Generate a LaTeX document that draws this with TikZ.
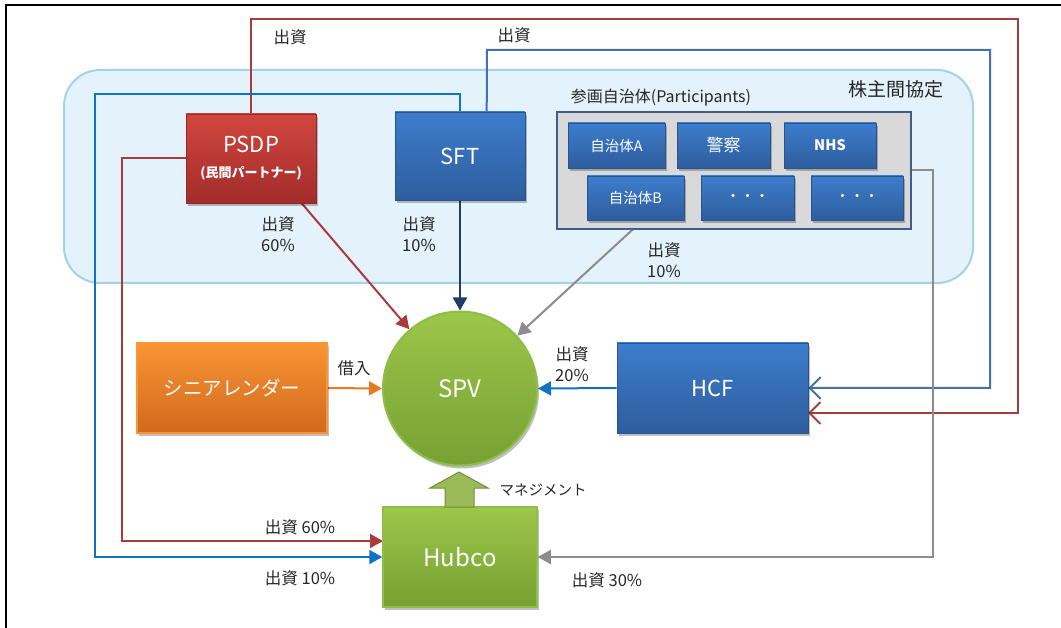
\documentclass[tikz,border=0pt]{standalone}
\usepackage{fontspec}
\setmainfont{Noto Sans CJK JP}
\usetikzlibrary{arrows.meta,shadows,calc}

\definecolor{regionfill}{HTML}{E4F2FB}
\definecolor{regionline}{HTML}{A3D3E4}
\definecolor{redtop}{HTML}{D2463F}
\definecolor{redbot}{HTML}{A22C2A}
\definecolor{bluetop}{HTML}{3D7DCC}
\definecolor{bluebot}{HTML}{2E5D9D}
\definecolor{greentop}{HTML}{9DC64B}
\definecolor{greenbot}{HTML}{76A032}
\definecolor{greenring}{HTML}{8DBE45}
\definecolor{orangetop}{HTML}{F99535}
\definecolor{orangebot}{HTML}{D0691D}
\definecolor{lnred}{HTML}{A83C3C}
\definecolor{lnsteel}{HTML}{4472A8}
\definecolor{lnbright}{HTML}{1072C4}
\definecolor{lnnavy}{HTML}{1F3D6B}
\definecolor{lngray}{HTML}{8C8C8C}
\definecolor{lnorange}{HTML}{E8791E}
\definecolor{panelfill}{HTML}{D9D9D9}
\definecolor{panelline}{HTML}{3E5D8C}
\definecolor{mgmtfill}{HTML}{9BBB59}
\definecolor{mgmtline}{HTML}{6F8F38}

\pgfdeclarelayer{regionlayer}
\pgfdeclarelayer{linklayer}
\pgfsetlayers{regionlayer,linklayer,main}

\tikzset{
  shade/.style={drop shadow={shadow xshift=2pt,shadow yshift=-3pt,opacity=0.25,fill=black}},
  redbox/.style={shade,rectangle,draw=redbot!90!black,line width=0.6pt,top color=redtop,bottom color=redbot,text=white,align=center,inner sep=0pt},
  bluebox/.style={shade,rectangle,draw=bluebot!90!black,line width=0.6pt,top color=bluetop,bottom color=bluebot,text=white,align=center,inner sep=0pt},
  greenbox/.style={shade,rectangle,draw=greenring,line width=1.5pt,top color=greentop,bottom color=greenbot,text=white,align=center,inner sep=0pt},
  orangebox/.style={shade,rectangle,draw=orangetop,line width=1.2pt,top color=orangetop,bottom color=orangebot,text=white,align=center,inner sep=0pt},
  bigtxt/.style={font=\fontsize{22}{26}\selectfont},
  smalltxt/.style={font=\fontsize{14.5}{16}\selectfont},
  lbl/.style={font=\fontsize{16.5}{21}\selectfont,align=center,inner sep=0pt,text=black!85},
  flow/.style={line width=2pt},
  filledtip/.style={-{Triangle[length=13pt,width=14pt]}},
  opentip/.style={-{Straight Barb[length=11pt,width=22pt]}},
}

\begin{document}
\begin{tikzpicture}[x=1pt,y=-1pt]
\useasboundingbox (0,0) rectangle (1061,628);

% participants panel
\node[lbl,font=\fontsize{16}{18}\selectfont] (parttitle) at (661,98) {参画自治体(Participants)};
\node[rectangle,draw=panelline,fill=panelfill,line width=2pt,minimum width=354pt,minimum height=117pt,inner sep=0pt]
  (part) at (734,170.5) {};

% participant members
\node[bluebox,smalltxt,minimum width=97pt,minimum height=45pt] (ja) at (616.5,145.5) {自治体A};
\node[bluebox,font=\fontsize{17}{18}\selectfont,minimum width=93pt,minimum height=45pt] (police) at (723.5,145.5) {警察};
\node[bluebox,font=\bfseries\fontsize{14.5}{16}\selectfont,minimum width=92pt,minimum height=45pt] (nhs) at (830,145.5) {NHS};
\node[bluebox,smalltxt,minimum width=97pt,minimum height=44pt] (jb) at (635.5,198) {自治体B};
\node[bluebox,smalltxt,minimum width=93pt,minimum height=44pt] (dots1) at (747.5,198) {・・・};
\node[bluebox,smalltxt,minimum width=92pt,minimum height=44pt] (dots2) at (857,198) {・・・};

% main entities
\node[redbox,font=\fontsize{22}{25}\selectfont,minimum width=130pt,minimum height=89pt] (psdp) at (251,158.5)
  {PSDP\\{\bfseries\fontsize{13}{15}\selectfont (民間パートナー)}};
\node[bluebox,bigtxt,minimum width=130pt,minimum height=88pt] (sft) at (460,156) {SFT};
\node[shade,circle,draw=greenring,line width=2pt,top color=greentop,bottom color=greenbot,
  text=white,minimum size=154pt,inner sep=0pt,font=\fontsize{24}{28}\selectfont] (spv) at (460,388.5) {SPV};
\node[orangebox,font=\fontsize{19.5}{22}\selectfont,minimum width=190pt,minimum height=90pt] (lender) at (232,388) {シニアレンダー};
\node[bluebox,bigtxt,minimum width=191pt,minimum height=90pt] (hcf) at (712.5,388) {HCF};
\node[greenbox,font=\fontsize{24}{28}\selectfont,minimum width=154pt,minimum height=100pt] (hubco) at (460,557) {Hubco};

% management block arrow from Hubco up to SPV
\draw[fill=mgmtfill,draw=mgmtline,line width=1pt]
  (445,507) -- (445,488) -- (430,488) -- (459,472) -- (488,488) -- (474,488) -- (474,507) -- cycle;
\node[lbl,font=\fontsize{14.5}{16}\selectfont] (mgmt) at (543,490) {マネジメント};

% background: page, frame and shareholders' agreement region
\begin{pgfonlayer}{regionlayer}
\fill[white] (0,0) rectangle (1061,628);
\draw[line width=2.5pt] (6,628) -- (6,5) -- (1061,5);
\draw[fill=regionfill,draw=regionline,line width=2pt,rounded corners=36pt]
  (64,70) rectangle (973,283);
\end{pgfonlayer}
\node[lbl,font=\fontsize{19}{20}\selectfont] (agree) at (896,89) {株主間協定};

% helper coordinates for routed connectors
\coordinate (redTopL) at (251,19);
\coordinate (redTopR) at (1018,19);
\coordinate (redDown) at (1018,413);
\coordinate (hcfRed) at (808,413);

\coordinate (sftTopR) at ($(sft.north west)+(92,0)$);
\coordinate (steelTopL) at (487,50);
\coordinate (steelTopR) at (990,50);

\coordinate (brightTopR) at (460,94);
\coordinate (brightTopL) at (95,94);
\coordinate (brightBot) at (95,557);

\coordinate (redLeftT) at (122,158.5);
\coordinate (redLeftB) at (122,541);
\coordinate (hubcoRed) at (383,541);

\coordinate (grayR) at (933,170.5);
\coordinate (grayB) at (933,557);

\coordinate (psdpOut) at ($(psdp.south west)+(116,0)$);
\coordinate (jbOut) at ($(jb.south west)+(56,0)$);

\begin{pgfonlayer}{linklayer}
% PSDP to HCF over the top
\draw[flow,lnred,opentip] (psdp.north) -- (redTopL) -- (redTopR) -- (redDown) -- (hcfRed);
% SFT to HCF over the top
\draw[flow,lnsteel,opentip] (sftTopR) -- (steelTopL) -- (steelTopR) -- (steelTopR |- hcf.east) -- (hcf.east);
% SFT to Hubco around the left
\draw[flow,lnbright,filledtip] (sft.north) -- (brightTopR) -- (brightTopL) -- (brightBot) -- (hubco.west);
% PSDP to Hubco
\draw[flow,lnred,filledtip] (psdp.west) -- (redLeftT) -- (redLeftB) -- (hubcoRed);
% participants to Hubco
\draw[flow,lngray,filledtip] (part.east) -- (grayR) -- (grayB) -- (hubco.east);

% direct contributions into SPV
\draw[flow,lnred,filledtip] (psdpOut) -- (spv);
\draw[flow,lnnavy,filledtip] (sft.south) -- (spv.north);
\draw[flow,lngray,filledtip] (jbOut) -- (spv);
\draw[flow,lnorange,filledtip] (lender.east) -- (spv.west);
\draw[flow,lnbright,filledtip] (hcf.west) -- (spv.east);
\end{pgfonlayer}

% labels
\node[lbl] (l1) at (290,37) {出資};
\node[lbl] (l2) at (514,35) {出資};
\node[lbl] (l3) at (278,234) {出資\\60\%};
\node[lbl] (l4) at (419,234) {出資\\10\%};
\node[lbl] (l5) at (664,260) {出資\\10\%};
\node[lbl] (l6) at (354,368) {借入};
\node[lbl] (l7) at (572,364) {出資\\20\%};
\node[lbl] (l8) at (300,527) {出資 60\%};
\node[lbl] (l9) at (300,578) {出資 10\%};
\node[lbl] (l10) at (607,580) {出資 30\%};
\end{tikzpicture}
\end{document}
